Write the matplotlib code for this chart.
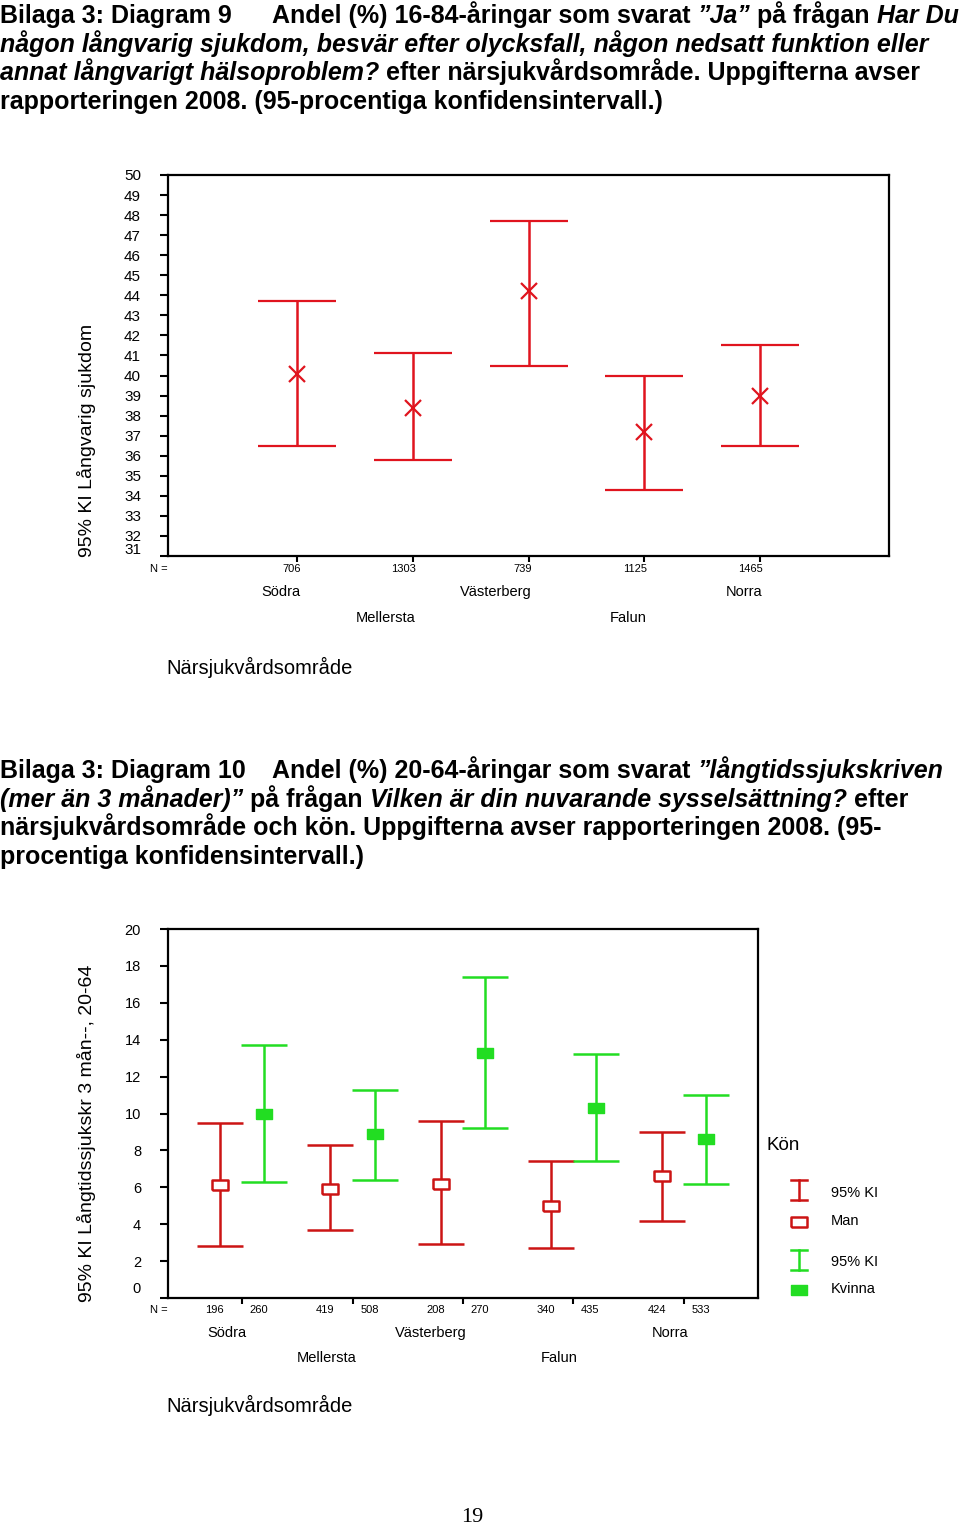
import matplotlib
matplotlib.use('Agg')
import matplotlib.pyplot as plt
import numpy as np

# data
regions = ['Södra', 'Mellersta', 'Västerberg', 'Falun', 'Norra']

n_all = [706, 1303, 739, 1125, 1465]
sjuk_mean = [40.1, 38.4, 44.2, 37.2, 39.0]
sjuk_low = [36.5, 35.8, 40.5, 34.3, 36.5]
sjuk_high = [43.7, 41.1, 47.7, 40.0, 41.5]

n_man = [196, 419, 208, 340, 424]
n_kvinna = [260, 508, 270, 435, 533]
man_mean = [6.1, 5.9, 6.2, 5.0, 6.6]
man_low = [2.8, 3.7, 2.9, 2.7, 4.2]
man_high = [9.5, 8.3, 9.6, 7.4, 9.0]
kv_mean = [10.0, 8.9, 13.3, 10.3, 8.6]
kv_low = [6.3, 6.4, 9.2, 7.4, 6.2]
kv_high = [13.7, 11.3, 17.4, 13.2, 11.0]

W, H = 960, 1528
SANS = ['Liberation Sans', 'DejaVu Sans']
NARROW = ['Liberation Sans Narrow', 'Liberation Sans', 'DejaVu Sans']
RED1 = '#e0141e'
RED2 = '#cc1414'
GREEN = '#22dd22'
PX = 0.72  # points per pixel at 100 dpi

plt.rcParams['font.family'] = SANS

fig = plt.figure(figsize=(9.6, 15.28), dpi=100)
page = fig.add_axes([0, 0, 1, 1])
page.set_xlim(0, W)
page.set_ylim(H, 0)
page.axis('off')
page.set_zorder(-1)
renderer = fig.canvas.get_renderer()


def measure(txt, **kw):
    t = page.text(0, 0, txt, **kw)
    w = t.get_window_extent(renderer).width
    t.remove()
    return w


def rich_run(x, y, parts, size=18):
    for txt, ital in parts:
        kw = dict(fontsize=size, fontweight='bold',
                  fontstyle='italic' if ital else 'normal', family=NARROW)
        sp = measure('a a', **kw) - measure('aa', **kw)
        lead = len(txt) - len(txt.lstrip(' '))
        trail = len(txt) - len(txt.rstrip(' '))
        x += lead * sp
        core = txt.strip(' ')
        t = page.text(x, y + 9, core, ha='left', va='baseline', **kw)
        x += t.get_window_extent(renderer).width + trail * sp
    return x


# titles
title1 = [
    (14, [(0, [('Bilaga 3: Diagram 9', False)]),
          (272, [('Andel (%) 16-84-åringar som svarat ', False), ('”Ja”', True),
                 (' på frågan ', False), ('Har Du', True)])]),
    (43, [(0, [('någon långvarig sjukdom, besvär efter olycksfall, någon nedsatt funktion eller', True)])]),
    (71, [(0, [('annat långvarigt hälsoproblem?', True),
               (' efter närsjukvårdsområde. Uppgifterna avser', False)])]),
    (100, [(0, [('rapporteringen 2008. (95-procentiga konfidensintervall.)', False)])]),
]
title2 = [
    (769, [(0, [('Bilaga 3: Diagram 10', False)]),
           (272, [('Andel (%) 20-64-åringar som svarat ', False), ('”långtidssjukskriven', True)])]),
    (798, [(0, [('(mer än 3 månader)”', True), (' på frågan ', False),
                ('Vilken är din nuvarande sysselsättning?', True), (' efter', False)])]),
    (826, [(0, [('närsjukvårdsområde och kön. Uppgifterna avser rapporteringen 2008. (95-', False)])]),
    (855, [(0, [('procentiga konfidensintervall.)', False)])]),
]
for y, runs in title1 + title2:
    for x0, parts in runs:
        rich_run(x0, y, parts)


def style_axes(ax):
    for s in ax.spines.values():
        s.set_linewidth(1.6)
    ax.tick_params(axis='y', direction='out', length=8 * PX, width=1.5,
                   pad=19 * PX, labelsize=11)
    ax.tick_params(axis='x', direction='out', length=6 * PX, width=1.5,
                   labelbottom=False)


def under_text(ax, x, txt, dy, dx=4, size=8):
    ax.annotate(txt, xy=(x, 0), xycoords=('data', 'axes fraction'),
                xytext=(dx * PX, -dy * PX), textcoords='offset points',
                ha='right', va='center', fontsize=size)


# ---- Diagram 9 ----
ax1 = fig.add_axes([168 / W, 1 - 556 / H, (889 - 168) / W, (556 - 175) / H])
pos = np.arange(1, len(regions) + 1)
m = np.array(sjuk_mean)
ax1.errorbar(pos, m, yerr=[m - np.array(sjuk_low), np.array(sjuk_high) - m],
             fmt='x', color=RED1, ms=11, mew=1.6, elinewidth=1.8,
             capsize=39 * PX, capthick=1.8)
ax1.set_xlim(-0.12, 6.12)
ax1.set_ylim(31, 50)
ax1.set_yticks(range(31, 51))
ax1.set_yticklabels([''] + [str(v) for v in range(32, 51)])
ax1.set_xticks(pos)
style_axes(ax1)
ax1.annotate('31', xy=(0, 31), xycoords=('axes fraction', 'data'),
             xytext=(-27 * PX, 6 * PX), textcoords='offset points',
             ha='right', va='center', fontsize=11)
for i, p in enumerate(pos):
    under_text(ax1, p, str(n_all[i]), 13, dx=3, size=8)
    under_text(ax1, p, regions[i], 36 if i % 2 == 0 else 62, dx=3, size=10.5)
page.text(150, 569, 'N =', ha='left', va='center', fontsize=8)
page.text(166, 667, 'Närsjukvårdsområde', ha='left', va='center', fontsize=14.5)
page.text(87, 440, '95% KI Långvarig sjukdom', rotation=90, ha='center',
          va='center', fontsize=14)

# ---- Diagram 10 ----
ax2 = fig.add_axes([168 / W, 1 - 1298 / H, (758 - 168) / W, (1298 - 929) / H])
xm = pos - 0.2
xk = pos + 0.2
mm = np.array(man_mean)
km = np.array(kv_mean)
rect = [(-1.6, -1), (1.6, -1), (1.6, 1), (-1.6, 1), (-1.6, -1)]
ax2.errorbar(xm, mm, yerr=[mm - np.array(man_low), np.array(man_high) - mm],
             fmt='none', ecolor=RED2, elinewidth=1.8, capsize=23 * PX, capthick=1.8)
ax2.plot(xm, mm, ls='none', marker=rect, ms=11, mfc='white', mec=RED2, mew=1.8)
ax2.errorbar(xk, km, yerr=[km - np.array(kv_low), np.array(kv_high) - km],
             fmt='none', ecolor=GREEN, elinewidth=1.8, capsize=23 * PX, capthick=1.8)
ax2.plot(xk, km, ls='none', marker=rect, ms=11, mfc=GREEN, mec=GREEN, mew=1)
ax2.set_xlim(0.33, 5.67)
ax2.set_ylim(0, 20)
ax2.set_yticks(range(0, 21, 2))
ax2.set_yticklabels([''] + [str(v) for v in range(2, 21, 2)])
ax2.set_xticks(pos)
style_axes(ax2)
ax2.tick_params(axis='y', labelsize=10.5)
ax2.annotate('0', xy=(0, 0), xycoords=('axes fraction', 'data'),
             xytext=(-27 * PX, 9 * PX), textcoords='offset points',
             ha='right', va='center', fontsize=10.5)
for i, p in enumerate(pos):
    under_text(ax2, xm[i], str(n_man[i]), 12, dx=4, size=8)
    under_text(ax2, xk[i], str(n_kvinna[i]), 12, dx=4, size=8)
    under_text(ax2, p, regions[i], 35 if i % 2 == 0 else 60, dx=4, size=10.5)
page.text(150, 1310, 'N =', ha='left', va='center', fontsize=8)
page.text(166, 1405, 'Närsjukvårdsområde', ha='left', va='center', fontsize=14.5)
page.text(87, 1133, '95% KI Långtidssjukskr 3 mån--, 20-64', rotation=90,
          ha='center', va='center', fontsize=14)

# legend
page.text(767, 1146, 'Kön', ha='left', va='center', fontsize=13.5)
for (y0, y1), col in [((1180, 1200), RED2), ((1250, 1270), GREEN)]:
    page.plot([799, 799], [y0, y1], color=col, lw=1.8)
    page.plot([791, 807], [y0, y0], color=col, lw=1.8)
    page.plot([791, 807], [y1, y1], color=col, lw=1.8)
page.plot([799], [1222], ls='none', marker=rect, ms=11, mfc='white', mec=RED2, mew=1.8)
page.plot([799], [1290], ls='none', marker=rect, ms=11, mfc=GREEN, mec=GREEN, mew=1)
for y, txt in [(1193, '95% KI'), (1221, 'Man'), (1262, '95% KI'), (1289, 'Kvinna')]:
    page.text(831, y, txt, ha='left', va='center', fontsize=10.5)

page.text(472, 1518, '19', ha='center', va='center', fontsize=16,
          family=['Liberation Serif', 'DejaVu Serif'])

fig.savefig('out.png', dpi=100)
